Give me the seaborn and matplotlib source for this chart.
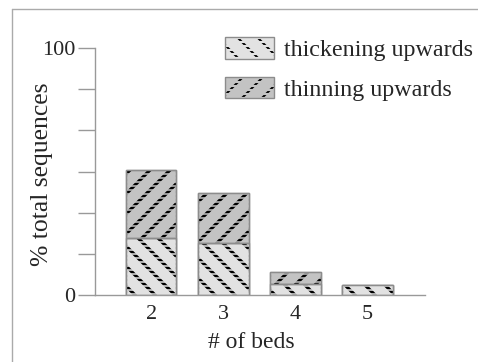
import numpy as np
import pandas as pd
import matplotlib
matplotlib.use('Agg')
import matplotlib.pyplot as plt
import seaborn as sns
from matplotlib.patches import Patch, Rectangle
from matplotlib.lines import Line2D
from matplotlib.legend_handler import HandlerTuple

# data
beds = ['2', '3', '4', '5']
thickening = [23, 21, 4.5, 4]
thinning = [27.5, 20.5, 5, 0]

df = pd.DataFrame({'beds': beds, 'thickening': thickening, 'thinning': thinning})
df['total'] = df['thickening'] + df['thinning']

# hatch spacing follows the dpi, so draw at 120 dpi and scale point sizes down
DPI = 120
K = 100 / DPI

sns.set_style('white')
plt.rcParams['font.family'] = ['Liberation Serif', 'DejaVu Serif']
plt.rcParams['hatch.linewidth'] = 1.5 * K

thick_col = '#e2e2e2'
thin_col = '#c3c3c3'
edge_col = '#8c8c8c'
dash = '-----'  # fine horizontal lines in the fill colour break the hatch into dots


def hatch_lw(p, lw):
    if hasattr(p, 'set_hatch_linewidth'):
        p.set_hatch_linewidth(lw * K)
    return p


def dotted_parts(fill, hatch, xy=(0, 0), w=1, h=1):
    return [hatch_lw(Rectangle(xy, w, h, fill=False, hatch=hatch,
                               edgecolor='black', lw=0, zorder=3), 2.3),
            hatch_lw(Rectangle(xy, w, h, fill=False, hatch=dash,
                               edgecolor=fill, lw=0, zorder=4), 1.1),
            Rectangle(xy, w, h, fill=False, edgecolor=edge_col, lw=K, zorder=5)]


fig = plt.figure(figsize=(4.78 * K, 3.62 * K), dpi=DPI)
ax = fig.add_axes([0.199, 0.185, 0.69, 0.682])

# stacked bars: total first (thinning colour), then thickening over the bottom
sns.barplot(data=df, x='beds', y='total', color=thin_col, saturation=1, width=0.7,
            edgecolor=edge_col, linewidth=K, ax=ax)
sns.barplot(data=df, x='beds', y='thickening', color=thick_col, saturation=1, width=0.7,
            edgecolor=edge_col, linewidth=K, ax=ax)

n = len(beds)
thin_bars = ax.patches[:n]
thick_bars = ax.patches[n:2 * n]

for p, q in zip(thin_bars, thick_bars):
    h = p.get_height() - q.get_height()
    parts = dotted_parts(thick_col, '\\\\', (q.get_x(), 0), q.get_width(), q.get_height())
    if h > 0:
        parts += dotted_parts(thin_col, '//', (p.get_x(), q.get_height()), p.get_width(), h)
    for r in parts:
        ax.add_patch(r)

ax.set_xlim(-0.78, 3.8)
ax.set_ylim(0, 100)
sns.despine(ax=ax)
for s in ['left', 'bottom']:
    ax.spines[s].set_color('#999999')
    ax.spines[s].set_linewidth(K)
    ax.spines[s].set_zorder(6)

ax.set_yticks(np.linspace(0, 100, 7))
ax.set_yticklabels(['0', '', '', '', '', '', '100'])
ax.tick_params(axis='y', length=12 * K, width=K, color='#999999', direction='out',
               pad=2 * K, labelsize=16 * K, left=True)
ax.tick_params(axis='x', length=0, pad=7 * K, labelsize=16 * K)

ax.set_xlabel('# of beds', fontsize=17 * K)
ax.set_ylabel('% total sequences', fontsize=18.5 * K)
ax.xaxis.set_label_coords(0.473, -0.15)
ax.yaxis.set_label_coords(-0.127, 0.49)


def legend_handle(fill, hatch):
    return (Patch(facecolor=fill, edgecolor='none', lw=0),
            hatch_lw(Patch(fill=False, hatch=hatch, edgecolor='black', lw=0), 2.3),
            hatch_lw(Patch(fill=False, hatch=dash, edgecolor=fill, lw=0), 1.1),
            Patch(fill=False, edgecolor=edge_col, lw=K))


ax.legend([legend_handle(thick_col, '\\\\'), legend_handle(thin_col, '//')],
          ['thickening upwards', 'thinning upwards'],
          handler_map={tuple: HandlerTuple(ndivide=1, pad=0)},
          loc='upper left', bbox_to_anchor=(225 / 478, 1 - 37 / 362),
          bbox_transform=fig.transFigure, frameon=False, borderpad=0,
          borderaxespad=0, handlelength=2.05, handleheight=1.0,
          handletextpad=0.4, labelspacing=0.65, fontsize=17.3 * K)

# light frame around the picture
fig.add_artist(Line2D([12 / 478, 12 / 478], [0, 1 - 9 / 362], transform=fig.transFigure,
                      color='#aaaaaa', lw=K))
fig.add_artist(Line2D([12 / 478, 1], [1 - 9 / 362, 1 - 9 / 362], transform=fig.transFigure,
                      color='#aaaaaa', lw=K))

fig.savefig('out.png', dpi=DPI)
